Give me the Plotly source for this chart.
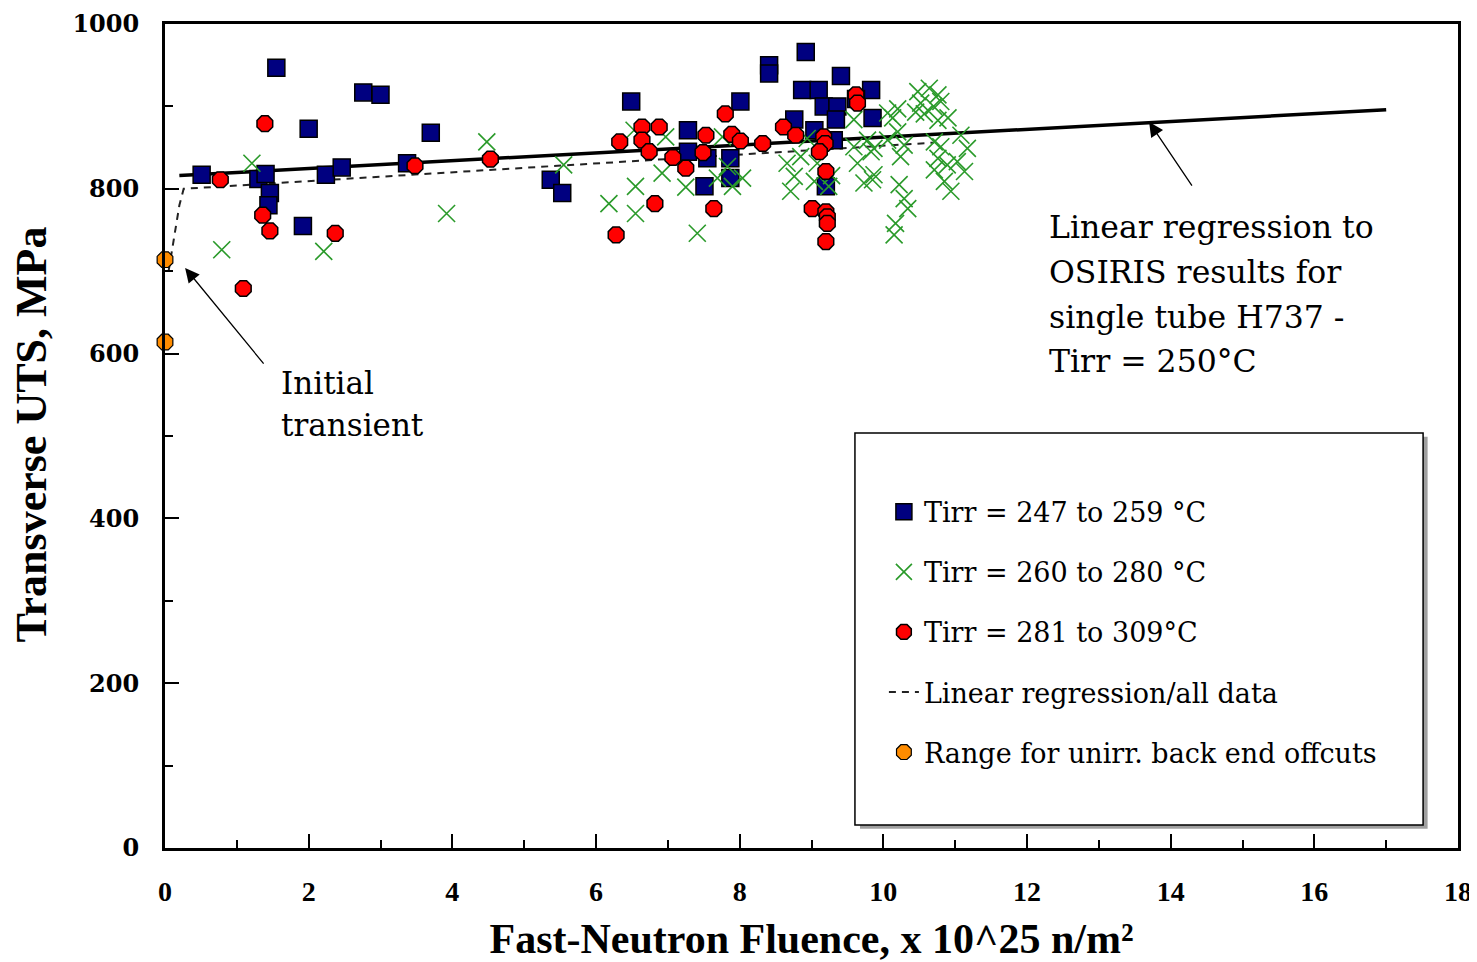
import plotly.graph_objects as go

# ---------------- data ----------------
blue_x = [0.51, 1.55, 2.76, 3.00, 2.00, 3.70, 1.30, 1.40, 1.46, 1.44, 2.24, 2.46, 3.37, 1.92,
          6.49, 8.01, 5.37, 5.53, 7.28, 7.28, 7.55, 7.51, 7.87, 7.87,
          8.92, 8.41, 8.41, 8.87, 9.10, 9.41, 9.83, 9.17, 9.36, 9.62, 9.34, 9.85, 8.76, 9.04,
          9.31, 9.20]
blue_y = [817, 947, 917, 914, 873, 868, 812, 818, 795, 780, 817, 826, 831, 755,
          906, 906, 811, 795, 871, 845, 837, 803, 837, 813,
          966, 950, 940, 920, 920, 937, 920, 900, 900, 909, 884, 886, 884, 871,
          859, 803]

green_x = [0.79, 1.21, 2.21, 3.92, 4.48,
           5.55, 6.18, 6.55, 6.55, 6.92, 6.97, 6.53, 7.25, 7.41, 7.76, 7.83, 7.90, 7.69, 8.04,
           8.66, 8.71, 8.76, 8.85, 9.08, 9.04, 9.24, 9.28, 8.94, 9.59, 9.59, 9.78, 9.83, 9.64,
           9.73, 9.85, 9.87, 9.87,
           10.06, 10.13, 10.20, 10.20, 10.29, 10.24, 10.22, 10.29, 10.34, 10.17, 10.15,
           10.48, 10.52, 10.64, 10.76, 10.70, 10.57, 10.76, 10.90, 10.71, 10.80, 11.08, 11.17,
           10.76, 10.89, 11.03, 11.13, 10.85, 10.94, 10.71, 10.45, 10.80, 10.06]
green_y = [726, 831, 724, 770, 857,
           829, 782, 803, 770, 819, 863, 871, 802, 746, 863, 827, 803, 813, 813,
           831, 797, 815, 839, 831, 809, 803, 816, 861, 884, 851, 859, 845, 831,
           807, 811, 849, 817,
           892, 886, 897, 869, 853, 839, 805, 788, 776, 758, 744,
           918, 904, 922, 914, 900, 891, 883, 886, 857, 851, 865, 849,
           837, 829, 833, 821, 809, 797, 823, 893, 906, 859]

red_x = [1.39, 0.77, 1.36, 1.46, 2.37, 1.09, 3.48, 4.53,
         6.33, 6.64, 6.88, 6.64, 6.74, 7.07, 7.25, 7.49, 7.53, 7.80, 7.89, 8.01, 8.32,
         8.61, 8.78, 6.82, 7.64, 6.28,
         9.17, 9.19, 9.11, 9.20, 9.62, 9.64, 9.01, 9.20, 9.22, 9.22, 9.20]
red_y = [879, 811, 768, 749, 746, 679, 828, 836,
         857, 875, 875, 859, 845, 838, 825, 844, 865, 891, 866, 858, 855,
         875, 865, 782, 776, 744,
         863, 855, 845, 821, 914, 904, 776, 772, 766, 758, 736]

orange_x = [0.0, 0.0]
orange_y = [714, 614]

osiris_x = [0.2, 17.0]
osiris_y = [816, 896]

alldata_x = [0.05, 0.12, 0.20, 0.26, 10.7]
alldata_y = [700, 740, 780, 800, 856]

legend_labels = ["Tirr = 247 to 259 °C", "Tirr = 260 to 280 °C", "Tirr = 281 to 309°C",
                 "Linear regression/all data", "Range for unirr. back end offcuts"]

osiris_note = ["Linear regression to", "OSIRIS results for", "single tube H737 -",
               "Tirr = 250°C"]
transient_note = ["Initial", "transient"]
x_title = "Fast-Neutron Fluence, x 10^25 n/m²"
y_title = "Transverse UTS, MPa"

x_ticks = [0, 2, 4, 6, 8, 10, 12, 14, 16, 18]
y_ticks = [0, 200, 400, 600, 800, 1000]

# ---------------- figure ----------------
SERIF = "DejaVu Serif"
TIMES = "Liberation Serif"

fig = go.Figure()

fig.add_trace(go.Scatter(x=osiris_x, y=osiris_y, mode="lines", showlegend=False,
                         line=dict(color="black", width=3.5), hoverinfo="skip"))
fig.add_trace(go.Scatter(x=alldata_x, y=alldata_y, mode="lines", name=legend_labels[3],
                         legendrank=4, legendgroup="d",
                         line=dict(color="#222222", width=2, dash="7px,6px")))

fig.add_trace(go.Scatter(x=blue_x, y=blue_y, mode="markers", name=legend_labels[0],
                         legendrank=1, legendgroup="a",
                         marker=dict(symbol="square", size=17, color="#000080",
                                     line=dict(color="black", width=1.5))))
fig.add_trace(go.Scatter(x=green_x, y=green_y, mode="markers", name=legend_labels[1],
                         legendrank=2, legendgroup="b",
                         marker=dict(symbol="x-thin", size=17, color="#2a9a2a",
                                     line=dict(color="#2a9a2a", width=1.6))))
fig.add_trace(go.Scatter(x=red_x, y=red_y, mode="markers", name=legend_labels[2],
                         legendrank=3, legendgroup="c",
                         marker=dict(symbol="octagon", size=17, color="#ff0000",
                                     line=dict(color="black", width=1.5))))
fig.add_trace(go.Scatter(x=orange_x, y=orange_y, mode="markers", name=legend_labels[4],
                         legendrank=5, legendgroup="e", cliponaxis=False,
                         marker=dict(symbol="octagon", size=17, color="#ff8c00",
                                     line=dict(color="black", width=1.2))))

# legend frame (box + shadow) in paper coordinates
fig.add_shape(type="rect", xref="paper", yref="paper", x0=0.5375, x1=0.9765,
              y0=0.0235, y1=0.499, line=dict(width=0), fillcolor="#a0a0a0", layer="below")
fig.add_shape(type="rect", xref="paper", yref="paper", x0=0.5336, x1=0.973,
              y0=0.0279, y1=0.5036, line=dict(color="black", width=1.5),
              fillcolor="white", layer="below")

# arrows
fig.add_annotation(x=0.28, y=704, ax=1.39, ay=586, xref="x", yref="y", axref="x", ayref="y",
                   text="", showarrow=True, arrowhead=2, arrowsize=2.2, arrowwidth=1.3,
                   arrowcolor="black")
fig.add_annotation(x=13.70, y=881, ax=14.31, ay=802, xref="x", yref="y", axref="x", ayref="y",
                   text="", showarrow=True, arrowhead=2, arrowsize=2.2, arrowwidth=1.3,
                   arrowcolor="black")

# text notes, one line each
for i, line in enumerate(transient_note):
    fig.add_annotation(x=1.59, y=564 - i * 51, xref="x", yref="y", text=line,
                       showarrow=False, xanchor="left", yanchor="middle",
                       font=dict(family=SERIF, size=31, color="black"))
for i, line in enumerate(osiris_note):
    fig.add_annotation(x=12.28, y=754 - i * 54.5, xref="x", yref="y", text=line,
                       showarrow=False, xanchor="left", yanchor="middle",
                       font=dict(family=SERIF, size=31.5, color="black"))

# y-axis title as rotated text placed left of the tick labels
fig.add_annotation(x=-0.1035, y=0.502, xref="paper", yref="paper", text=y_title,
                   textangle=-90, showarrow=False, xanchor="center", yanchor="middle",
                   font=dict(family=TIMES, size=44, color="black", weight="bold"))

fig.update_layout(
    width=1477, height=962,
    margin=dict(l=157, r=27, t=16, b=122),
    paper_bgcolor="white", plot_bgcolor="white",
    showlegend=True,
    legend=dict(x=0.556, y=0.4373, xanchor="left", yanchor="top",
                bgcolor="rgba(0,0,0,0)", borderwidth=0, tracegroupgap=22,
                font=dict(family=SERIF, size=27, color="black"),
                itemsizing="trace"),
    xaxis=dict(range=[0, 18], tickvals=x_ticks, ticks="inside", ticklen=14, tickwidth=2,
               tickcolor="black", automargin=False,
               minor=dict(dtick=1, ticks="inside", ticklen=8, tickwidth=1.5,
                          tickcolor="black", showgrid=False),
               showgrid=False, zeroline=False, showline=True, linewidth=3,
               linecolor="black", mirror=True, ticklabelstandoff=16,
               tickfont=dict(family=TIMES, size=28, color="black", weight="bold"),
               title=dict(text=x_title, standoff=19,
                          font=dict(family=TIMES, size=42, color="black", weight="bold"))),
    yaxis=dict(range=[0, 1000], tickvals=y_ticks, ticks="inside", ticklen=14, tickwidth=2,
               tickcolor="black", automargin=False,
               minor=dict(dtick=100, ticks="inside", ticklen=8, tickwidth=1.5,
                          tickcolor="black", showgrid=False),
               showgrid=False, zeroline=False, showline=True, linewidth=3,
               linecolor="black", mirror=True, ticklabelstandoff=18,
               tickfont=dict(family=SERIF, size=24, color="black", weight="bold")),
)

fig.write_html("out.html")
